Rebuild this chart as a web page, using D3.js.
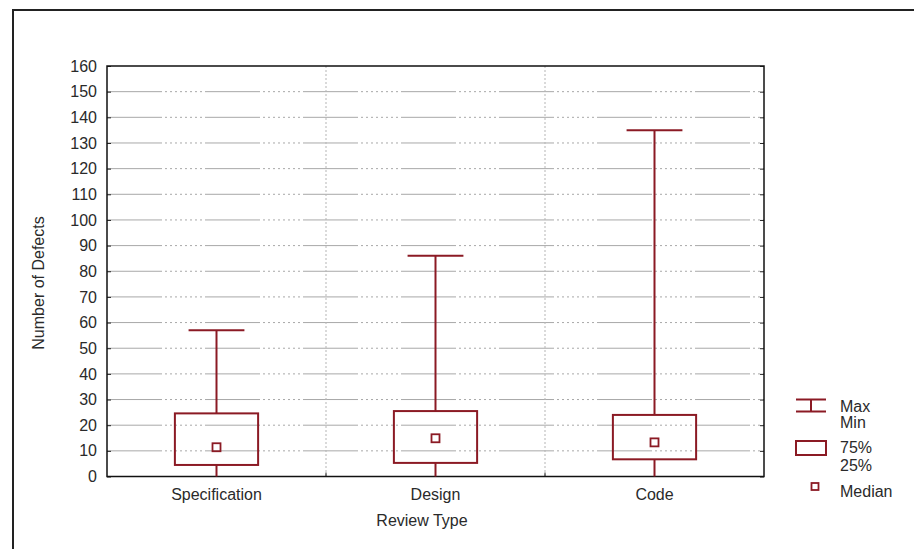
<!DOCTYPE html>
<html>
<head>
<meta charset="utf-8">
<script src="https://cdn.jsdelivr.net/npm/d3@7"></script>
<style>
  body { margin: 0; background: #fff; }
  text { font-family: "Liberation Sans", Arial, sans-serif; fill: #2a2a2a; }
</style>
</head>
<body>
<script>
const categories = ["Specification", "Design", "Code"]
const maxVals = [57, 86, 135]
const minVals = [0, 0, 0]
const q75 = [24.6, 25.5, 24]
const q25 = [4.5, 5.3, 6.7]
const medians = [11.4, 14.9, 13.3]
const yTicks = [0, 10, 20, 30, 40, 50, 60, 70, 80, 90, 100, 110, 120, 130, 140, 150, 160]
const legendItems = [["Max", "Min"], ["75%", "25%"], ["Median"]]

const width = 914
const height = 549
const margin = ({top: 66, right: 150, bottom: 72.5, left: 107})
const boxColor = "#8b1a24"

const data = categories.map((c, i) => ({
  cat: c, max: maxVals[i], min: minVals[i], q75: q75[i], q25: q25[i], med: medians[i]
}))

const x = d3.scaleBand()
    .domain(categories)
    .range([margin.left, width - margin.right])
    .padding(0)
const y = d3.scaleLinear()
    .domain([0, 160])
    .range([height - margin.bottom, margin.top])

const svg = d3.select("body").append("svg")
    .attr("viewBox", [0, 0, width, height])
    .attr("width", width)
    .attr("height", height)

// outer frame (runs off the right and bottom edge)
svg.append("path")
    .attr("d", `M13,${height + 5}V10H${width + 5}`)
    .attr("fill", "none")
    .attr("stroke", "#222")
    .attr("stroke-width", 2)

// horizontal grid
svg.append("g")
  .selectAll("line")
  .data(yTicks.filter(d => d > 0 && d < 160))
  .join("line")
    .attr("x1", margin.left)
    .attr("x2", width - margin.right)
    .attr("y1", d => y(d))
    .attr("y2", d => y(d))
    .attr("stroke", "#a8a8a8")
    .attr("stroke-width", 1)
    .attr("stroke-dasharray", "55,3,2,3,2,3,2,3,2,3,2,3,2,3,2,3,2,3")

// vertical separators between categories
svg.append("g")
  .selectAll("line")
  .data(categories.slice(1))
  .join("line")
    .attr("x1", d => x(d))
    .attr("x2", d => x(d))
    .attr("y1", margin.top)
    .attr("y2", height - margin.bottom)
    .attr("stroke", "#b5b5b5")
    .attr("stroke-dasharray", "2,2")

// y axis (ticks inside, labels left)
const yAxis = g => g
    .attr("transform", `translate(${margin.left},0)`)
    .call(d3.axisLeft(y).tickValues(yTicks).tickSize(-4).tickPadding(10))
    .call(g => g.select(".domain").remove())
    .call(g => g.selectAll(".tick line").attr("stroke", "#222"))
    .call(g => g.selectAll(".tick text")
        .attr("font-size", 16)
        .attr("font-family", "Liberation Sans, Arial, sans-serif")
        .attr("fill", "#2a2a2a"))

svg.append("g").call(yAxis)

// right-side ticks
svg.append("g")
    .attr("transform", `translate(${width - margin.right},0)`)
    .call(d3.axisRight(y).tickValues(yTicks).tickSize(-4).tickFormat(""))
    .call(g => g.select(".domain").remove())
    .call(g => g.selectAll(".tick line").attr("stroke", "#222"))

// x axis
const xAxis = g => g
    .attr("transform", `translate(0,${height - margin.bottom})`)
    .call(d3.axisBottom(x).tickSize(-5).tickPadding(12))
    .call(g => g.select(".domain").remove())
    .call(g => g.selectAll(".tick line").attr("stroke", "#222"))
    .call(g => g.selectAll(".tick text")
        .attr("font-size", 16)
        .attr("font-family", "Liberation Sans, Arial, sans-serif")
        .attr("fill", "#2a2a2a"))

svg.append("g").call(xAxis)

// boundary ticks on the x axis
svg.append("g")
  .selectAll("line")
  .data(categories.slice(1))
  .join("line")
    .attr("x1", d => x(d))
    .attr("x2", d => x(d))
    .attr("y1", y(0))
    .attr("y2", y(0) - 4)
    .attr("stroke", "#222")

// plot frame
svg.append("rect")
    .attr("x", margin.left)
    .attr("y", margin.top)
    .attr("width", width - margin.right - margin.left)
    .attr("height", height - margin.bottom - margin.top)
    .attr("fill", "none")
    .attr("stroke", "#111")
    .attr("stroke-width", 1.5)

// boxes
const boxW = x.bandwidth() * 0.38
const capW = x.bandwidth() * 0.255
const cx = d => x(d.cat) + x.bandwidth() / 2

const boxes = svg.append("g")
    .attr("stroke", boxColor)
    .attr("stroke-width", 2)
    .attr("fill", "none")
  .selectAll("g")
  .data(data)
  .join("g")

boxes.append("line")
    .attr("x1", cx).attr("x2", cx)
    .attr("y1", d => y(d.max)).attr("y2", d => y(d.q75))
boxes.append("line")
    .attr("x1", cx).attr("x2", cx)
    .attr("y1", d => y(d.q25)).attr("y2", d => y(d.min))
boxes.append("line")
    .attr("x1", d => cx(d) - capW / 2).attr("x2", d => cx(d) + capW / 2)
    .attr("y1", d => y(d.max)).attr("y2", d => y(d.max))
boxes.append("rect")
    .attr("x", d => cx(d) - boxW / 2)
    .attr("width", boxW)
    .attr("y", d => y(d.q75))
    .attr("height", d => y(d.q25) - y(d.q75))
boxes.append("rect")
    .attr("x", d => cx(d) - 4)
    .attr("y", d => y(d.med) - 4)
    .attr("width", 8)
    .attr("height", 8)
    .attr("stroke-width", 1.8)

// axis titles
svg.append("text")
    .attr("transform", `translate(44,283) rotate(-90)`)
    .attr("text-anchor", "middle")
    .attr("font-size", 16)
    .text("Number of Defects")

svg.append("text")
    .attr("x", 422)
    .attr("y", 526)
    .attr("text-anchor", "middle")
    .attr("font-size", 16)
    .text("Review Type")

// legend
const lg = svg.append("g")
    .attr("stroke", boxColor)
    .attr("stroke-width", 2)
    .attr("fill", "none")
lg.append("path").attr("d", "M796,399.5H826M811,399.5V411.5M796,411.5H826")
lg.append("rect").attr("x", 796).attr("y", 441).attr("width", 30).attr("height", 14)
lg.append("rect").attr("x", 811.5).attr("y", 483).attr("width", 7).attr("height", 7).attr("stroke-width", 1.8)

const legendText = [
  [legendItems[0][0], 412], [legendItems[0][1], 428],
  [legendItems[1][0], 453], [legendItems[1][1], 471],
  [legendItems[2][0], 497]
]
svg.append("g")
  .selectAll("text")
  .data(legendText)
  .join("text")
    .attr("x", 840)
    .attr("y", d => d[1])
    .attr("font-size", 16)
    .attr("fill", "#2a2a3a")
    .text(d => d[0])
</script>
</body>
</html>
